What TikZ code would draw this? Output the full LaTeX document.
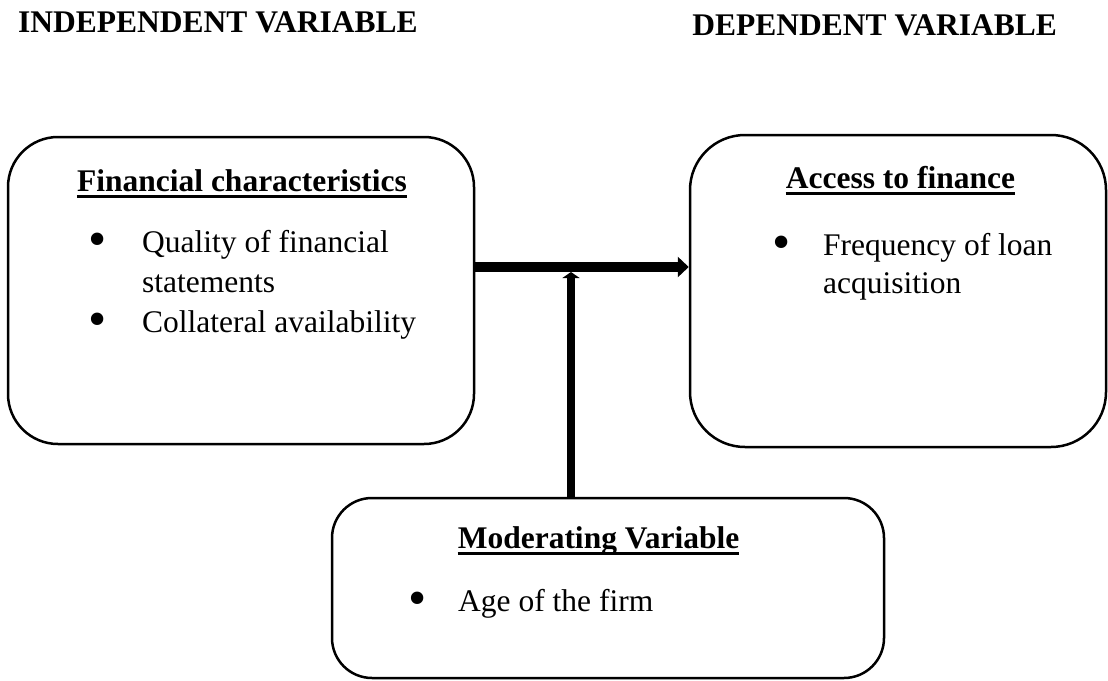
\documentclass[tikz,border=0pt]{standalone}
\usepackage{fontspec}
\setmainfont{Liberation Serif}
\usetikzlibrary{arrows.meta, positioning}

\begin{document}
\begin{tikzpicture}[
    x=1pt, y=-1pt,
    varbox/.style={rectangle, draw, line width=2.5pt, inner sep=0pt},
    heading/.style={font=\fontsize{31.5}{40}\selectfont\bfseries, inner sep=0pt},
    boxtitle/.style={font=\fontsize{31.5}{40}\selectfont\bfseries, inner sep=0pt, anchor=base},
    titleline/.style={line width=2.5pt},
    item/.style={font=\fontsize{31.5}{40}\selectfont, inner sep=0pt, anchor=base west},
    dot/.style={font=\fontsize{52}{52}\selectfont, inner sep=0pt, anchor=center},
    mainarrow/.style={line width=10pt, -{Triangle[width=20pt, length=11pt]}},
    modarrow/.style={line width=8.5pt, -{Triangle[width=17pt, length=6pt]}}
]
    \useasboundingbox (0,0) rectangle (1108,680);

    % Column headings
    \node[heading, anchor=base west] (indep) at (18,32) {INDEPENDENT VARIABLE};
    \node[heading, anchor=base east] (dep) at (1057,35) {DEPENDENT VARIABLE};

    % Boxes
    \node[varbox, rounded corners=50pt, minimum width=466pt, minimum height=307pt] (fin) at (241,290.5) {};
    \node[varbox, rounded corners=55pt, minimum width=416pt, minimum height=312pt] (acc) at (898,291) {};
    \node[varbox, rounded corners=40pt, minimum width=552pt, minimum height=180pt] (mod) at (608,588) {};

    % Independent variable
    \node[boxtitle] (fintitle) at (242,191) {Financial characteristics};
    \draw[titleline] ([yshift=-5.5pt]fintitle.base west) -- ([yshift=-5.5pt]fintitle.base east);
    \node[dot] (finbul1) at (98,245) {\textbullet};
    \node[item] (finq1) at (142,252) {Quality of financial};
    \node[item] (finq2) at ([yshift=-40pt]finq1.base west) {statements};
    \node[dot] (finbul2) at (98,325) {\textbullet};
    \node[item] (fincol) at (142,332) {Collateral availability};

    % Dependent variable
    \node[boxtitle] (acctitle) at (900.5,188) {Access to finance};
    \draw[titleline] ([yshift=-5.5pt]acctitle.base west) -- ([yshift=-5.5pt]acctitle.base east);
    \node[dot] (accbul) at (782,248) {\textbullet};
    \node[item] (accf1) at (823,255) {Frequency of loan};
    \node[item] (accf2) at ([yshift=-38pt]accf1.base west) {acquisition};

    % Moderating variable
    \node[boxtitle] (modtitle) at (598.5,548) {Moderating Variable};
    \draw[titleline] ([yshift=-5.5pt]modtitle.base west) -- ([yshift=-5.5pt]modtitle.base east);
    \node[dot] (modbul) at (418,604) {\textbullet};
    \node[item] (modage) at (458,611) {Age of the firm};

    % Arrows
    \coordinate (meet) at (571,267);
    \draw[mainarrow] (fin.east |- meet) -- (acc.west |- meet);
    \draw[modarrow] (mod.north -| meet) -- ([yshift=-5pt]meet);

\end{tikzpicture}
\end{document}
